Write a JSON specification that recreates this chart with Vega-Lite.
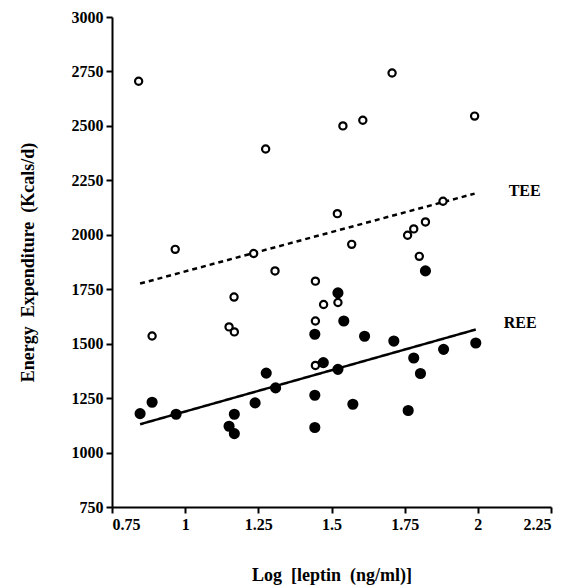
{
  "$schema": "https://vega.github.io/schema/vega-lite/v6.json",
  "autosize": "none",
  "width": 439,
  "height": 490,
  "padding": {"left": 112, "top": 17, "right": 17, "bottom": 81},
  "background": "white",
  "config": {
    "view": {"stroke": null},
    "font": "Liberation Serif",
    "axis": {
      "grid": false,
      "domainColor": "black",
      "domainWidth": 2,
      "tickColor": "black",
      "tickWidth": 2,
      "tickSize": 6,
      "labelFont": "Liberation Serif",
      "labelFontWeight": "bold",
      "labelFontSize": 16,
      "labelColor": "black",
      "titleFont": "Liberation Serif",
      "titleFontWeight": "bold",
      "titleFontSize": 18,
      "titleColor": "black"
    }
  },
  "datasets": {
    "pts": [
      {"series": "TEE", "x": 0.841, "y": 2705},
      {"series": "TEE", "x": 1.707, "y": 2743},
      {"series": "TEE", "x": 1.539, "y": 2500},
      {"series": "TEE", "x": 1.607, "y": 2526},
      {"series": "TEE", "x": 1.989, "y": 2545},
      {"series": "TEE", "x": 1.275, "y": 2394},
      {"series": "TEE", "x": 1.881, "y": 2154},
      {"series": "TEE", "x": 1.52, "y": 2097},
      {"series": "TEE", "x": 1.821, "y": 2059},
      {"series": "TEE", "x": 1.781, "y": 2027},
      {"series": "TEE", "x": 1.76, "y": 1998},
      {"series": "TEE", "x": 0.966, "y": 1933},
      {"series": "TEE", "x": 1.234, "y": 1914},
      {"series": "TEE", "x": 1.569, "y": 1956},
      {"series": "TEE", "x": 1.8, "y": 1901},
      {"series": "TEE", "x": 0.887, "y": 1535},
      {"series": "TEE", "x": 1.167, "y": 1714},
      {"series": "TEE", "x": 1.15, "y": 1577},
      {"series": "TEE", "x": 1.168, "y": 1554},
      {"series": "TEE", "x": 1.307, "y": 1834},
      {"series": "TEE", "x": 1.445, "y": 1787},
      {"series": "TEE", "x": 1.473, "y": 1680},
      {"series": "TEE", "x": 1.445, "y": 1604},
      {"series": "TEE", "x": 1.445, "y": 1400},
      {"series": "TEE", "x": 1.522, "y": 1689},
      {"series": "REE", "x": 1.821, "y": 1834},
      {"series": "REE", "x": 1.522, "y": 1733},
      {"series": "REE", "x": 1.542, "y": 1604},
      {"series": "REE", "x": 1.443, "y": 1543},
      {"series": "REE", "x": 1.613, "y": 1534},
      {"series": "REE", "x": 1.713, "y": 1512},
      {"series": "REE", "x": 1.993, "y": 1503},
      {"series": "REE", "x": 1.883, "y": 1474},
      {"series": "REE", "x": 1.781, "y": 1434},
      {"series": "REE", "x": 1.472, "y": 1413},
      {"series": "REE", "x": 1.522, "y": 1382},
      {"series": "REE", "x": 1.804, "y": 1363},
      {"series": "REE", "x": 1.443, "y": 1263},
      {"series": "REE", "x": 1.573, "y": 1222},
      {"series": "REE", "x": 1.762, "y": 1193},
      {"series": "REE", "x": 1.443, "y": 1115},
      {"series": "REE", "x": 0.846, "y": 1179},
      {"series": "REE", "x": 0.887, "y": 1231},
      {"series": "REE", "x": 0.969, "y": 1176},
      {"series": "REE", "x": 1.15, "y": 1121},
      {"series": "REE", "x": 1.168, "y": 1087},
      {"series": "REE", "x": 1.168, "y": 1176},
      {"series": "REE", "x": 1.239, "y": 1228},
      {"series": "REE", "x": 1.277, "y": 1365},
      {"series": "REE", "x": 1.309, "y": 1297}
    ],
    "fits": [
      {"series": "TEE", "x": 0.846, "y": 1776, "x2": 1.989, "y2": 2189, "lx": 2.16, "ly": 2201},
      {"series": "REE", "x": 0.846, "y": 1130, "x2": 1.993, "y2": 1565, "lx": 2.145, "ly": 1595}
    ]
  },
  "layer": [
    {
      "data": {"name": "fits"},
      "mark": {"type": "rule", "color": "black", "strokeWidth": 2.5},
      "encoding": {
        "x": {"field": "x", "type": "quantitative", "scale": {"domain": [0.75, 2.25], "nice": false, "zero": false},
          "axis": {"values": [0.75, 1, 1.25, 1.5, 1.75, 2, 2.25], "labelExpr": "'' + datum.value", "title": "Log\u00a0\u00a0[leptin\u00a0\u00a0(ng/ml)]", "titlePadding": 34, "labelPadding": 3}},
        "y": {"field": "y", "type": "quantitative", "scale": {"domain": [750, 3000], "nice": false, "zero": false},
          "axis": {"values": [750, 1000, 1250, 1500, 1750, 2000, 2250, 2500, 2750, 3000], "format": "d", "title": "Energy\u00a0\u00a0Expenditure\u00a0\u00a0(Kcals/d)", "titlePadding": 34, "labelPadding": 3}},
        "x2": {"field": "x2"},
        "y2": {"field": "y2"},
        "strokeDash": {"field": "series", "type": "nominal", "scale": {"domain": ["TEE", "REE"], "range": [[5, 4], [1, 0]]}, "legend": null}
      }
    },
    {
      "data": {"name": "fits"},
      "mark": {"type": "text", "fontSize": 16, "fontWeight": "bold", "font": "Liberation Serif", "color": "black", "align": "center", "baseline": "middle"},
      "encoding": {
        "x": {"field": "lx", "type": "quantitative"},
        "y": {"field": "ly", "type": "quantitative"},
        "text": {"field": "series"}
      }
    },
    {
      "data": {"name": "pts"},
      "mark": {"type": "point", "shape": "circle", "opacity": 1, "strokeWidth": 2.2},
      "encoding": {
        "x": {"field": "x", "type": "quantitative"},
        "y": {"field": "y", "type": "quantitative"},
        "fill": {"field": "series", "type": "nominal", "scale": {"domain": ["TEE", "REE"], "range": ["white", "black"]}, "legend": null},
        "stroke": {"value": "black"},
        "size": {"field": "series", "type": "nominal", "scale": {"domain": ["TEE", "REE"], "range": [52, 80]}, "legend": null}
      }
    }
  ]
}
